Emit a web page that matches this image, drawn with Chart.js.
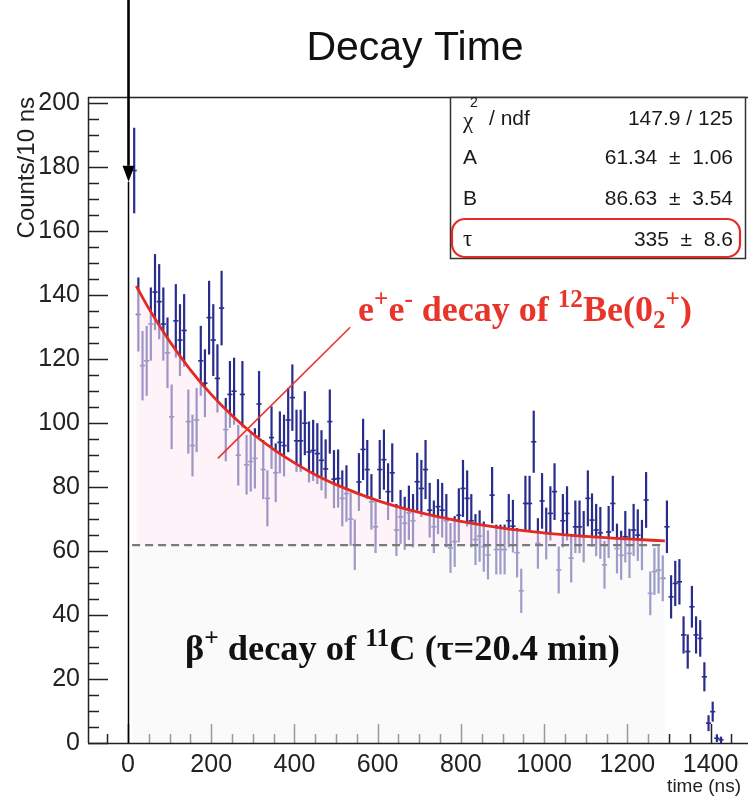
<!DOCTYPE html>
<html>
<head>
<meta charset="utf-8">
<script src="https://cdn.jsdelivr.net/npm/chart.js@4.4.1/dist/chart.umd.min.js"></script>
<style>
html,body{margin:0;padding:0;background:#ffffff;}
canvas{display:block;}
</style>
</head>
<body>
<canvas id="c" width="748" height="807"></canvas>
<script>
// ---------------- data ----------------
const binCenters = [15,25,35,45,55,65,75,85,95,105,115,125,135,145,155,165,175,185,195,205,215,225,235,245,255,265,275,285,295,305,315,325,335,345,355,365,375,385,395,405,415,425,435,445,455,465,475,485,495,505,515,525,535,545,555,565,575,585,595,605,615,625,635,645,655,665,675,685,695,705,715,725,735,745,755,765,775,785,795,805,815,825,835,845,855,865,875,885,895,905,915,925,935,945,955,965,975,985,995,1005,1015,1025,1035,1045,1055,1065,1075,1085,1095,1105,1115,1125,1135,1145,1155,1165,1175,1185,1195,1205,1215,1225,1235,1245,1255,1265,1275,1285,1295,1305,1315,1325,1335,1345,1355,1365,1375,1385,1395,1405,1415,1425];
const counts = [179,134,118,119.5,131,141,138,131,122,102,132,126,129,100.5,93,101,119.5,112.5,133,126,114,136,98,109,110,90,109,87,88,89,106,85.5,76.5,95.5,84.5,94,93,101,108,94.5,94.5,100,91,91.5,90.5,88.4,85.7,100.5,82.5,82.7,76.5,78,70,62,81.6,91.8,85.5,75.4,67.6,85.5,88.6,78.6,84.5,66.6,70.7,68.7,72,69.5,81.7,79.6,85.5,72.8,67.6,73.9,72.8,69.5,61,63,71.2,79.6,76.5,69.5,63.6,64.7,61.4,58.8,77.5,60.5,60.5,60.5,69.5,67.8,59.5,47.6,74.9,74.9,94.2,62.4,75.7,65.5,71.8,78.6,54.1,69.5,71.8,57.8,67.6,67.6,64.5,76.5,69.7,66.6,65.7,55.7,66,74.9,60.8,58.7,64.5,59.3,66.6,65,61.9,76,46.8,53.6,54.1,51.5,67.6,45.7,49.9,50.4,33.8,28.6,42.6,33.8,32.7,20.7,6.2,9.8,1.5,1.0];

// fit curve (red)
const fitTime   = [20,50,100,150,200,250,300,350,400,450,500,600,700,800,900,1000,1100,1200,1290];
const fitCounts = [142.9,135.9,125.6,116.7,109.0,102.4,96.7,91.8,87.6,83.9,80.8,75.8,72.1,69.3,67.2,65.7,64.6,63.8,63.2];

// dashed background level
const baselineTime   = [10,1290];
const baselineCounts = [61.9,61.9];

// red pointer line of the annotation
const pointerTime   = [216,534];
const pointerCounts = [89,130];

const xTickValues = [0,200,400,600,800,1000,1200,1400];
const yTickValues = [0,20,40,60,80,100,120,140,160,180,200];

const statsLabels = ['χ','A','B','τ'];
const statsValues = ['147.9 / 125','61.34  ±  1.06','86.63  ±  3.54','335  ±  8.6'];

const chartTitle = 'Decay Time';
const xTitle = 'time (ns)';
const yTitle = 'Counts/10 ns';

// ---------------- styling ----------------
const SANS = '"Liberation Sans", Arial, Helvetica, sans-serif';
const SERIF = '"Liberation Serif", "Times New Roman", serif';
const NAVY = '#282c8c';
const AXIS = '#222222';

Chart.defaults.font.family = SANS;

function toPts(xs, ys){ return xs.map((x,i)=>({x:x, y:ys[i]})); }

// vertical error bars (sqrt N) drawn through the scales
const errorBars = {
  id:'errorBars',
  afterDatasetDraw(chart, args){
    if(args.index !== 0) return;
    const {ctx, chartArea:a, scales:{x, y}} = chart;
    ctx.save();
    ctx.beginPath(); ctx.rect(a.left, a.top, a.right-a.left, a.bottom-a.top); ctx.clip();
    ctx.strokeStyle = NAVY; ctx.lineWidth = 2.2;
    binCenters.forEach((t,i)=>{
      const v = counts[i], e = Math.sqrt(v);
      const px = x.getPixelForValue(t);
      ctx.beginPath();
      ctx.moveTo(px, y.getPixelForValue(Math.max(0, v-e)));
      ctx.lineTo(px, y.getPixelForValue(v+e));
      ctx.stroke();
    });
    ctx.restore();
  }
};

// inward ROOT-style tick marks (drawn before datasets so the overlays cover them)
const innerTicks = {
  id:'innerTicks',
  beforeDatasetsDraw(chart){
    const {ctx, chartArea:a, scales:{x, y}} = chart;
    ctx.save();
    ctx.strokeStyle = AXIS; ctx.lineWidth = 1.5;
    for(let v=0; v<=200; v+=5){
      const py = Math.round(y.getPixelForValue(v))+0.5;
      const len = (v%20===0) ? 20 : 11;
      ctx.beginPath(); ctx.moveTo(a.left, py); ctx.lineTo(a.left+len, py); ctx.stroke();
    }
    for(let v=-50; v<=1450; v+=50){
      const px = Math.round(x.getPixelForValue(v))+0.5;
      const len = (v%200===0) ? 19 : 9;
      ctx.beginPath(); ctx.moveTo(px, a.bottom); ctx.lineTo(px, a.bottom-len); ctx.stroke();
    }
    ctx.restore();
  }
};

function drawRich(ctx, x, y, segs, size, family, color){
  ctx.save();
  ctx.fillStyle = color; ctx.textBaseline = 'alphabetic'; ctx.textAlign = 'left';
  let cx = x;
  segs.forEach(s=>{
    const sz = size*(s.k||1);
    ctx.font = 'bold ' + sz + 'px ' + family;
    ctx.fillText(s.t, cx, y + (s.dy||0)*size);
    cx += ctx.measureText(s.t).width;
  });
  ctx.restore();
}

const overlayText = {
  id:'overlayText',
  afterDraw(chart){
    const {ctx, chartArea:a, scales:{x, y}} = chart;
    const W = chart.width;
    ctx.save();
    // frame lines
    ctx.strokeStyle = AXIS; ctx.lineWidth = 1.5;
    ctx.beginPath(); ctx.moveTo(a.left, a.top+0.5); ctx.lineTo(W, a.top+0.5); ctx.stroke();
    ctx.beginPath(); ctx.moveTo(a.left+0.5, a.top); ctx.lineTo(a.left+0.5, a.bottom); ctx.stroke();
    ctx.beginPath(); ctx.moveTo(a.left, a.bottom+0.5); ctx.lineTo(W, a.bottom+0.5); ctx.stroke();

    // title
    ctx.fillStyle = '#111'; ctx.font = '41px ' + SANS; ctx.textAlign = 'center'; ctx.textBaseline = 'alphabetic';
    ctx.fillText(chartTitle, 415, 60);

    // arrow at t = 0
    const ax = Math.round(x.getPixelForValue(0))+0.5;
    const base = y.getPixelForValue(180.5), tip = y.getPixelForValue(175.5);
    ctx.strokeStyle = '#000'; ctx.fillStyle = '#000';
    ctx.lineWidth = 2.6;
    ctx.beginPath(); ctx.moveTo(ax, 0); ctx.lineTo(ax, base); ctx.stroke();
    ctx.beginPath(); ctx.moveTo(ax-6, base); ctx.lineTo(ax+6, base); ctx.lineTo(ax, tip); ctx.closePath(); ctx.fill();
    ctx.lineWidth = 1.5;
    ctx.beginPath(); ctx.moveTo(ax, tip); ctx.lineTo(ax, a.bottom); ctx.stroke();

    // annotations
    drawRich(ctx, x.getPixelForValue(553), y.getPixelForValue(132), [
      {t:'e'},{t:'+',k:0.7,dy:-0.38},{t:'e'},{t:'-',k:0.7,dy:-0.38},
      {t:' decay of '},{t:'12',k:0.7,dy:-0.38},{t:'Be(0'},{t:'2',k:0.7,dy:0.2},{t:'+',k:0.7,dy:-0.38},{t:')'}
    ], 36, SERIF, '#e8352b');
    drawRich(ctx, x.getPixelForValue(137), y.getPixelForValue(26), [
      {t:'β'},{t:'+',k:0.7,dy:-0.38},{t:' decay of '},{t:'11',k:0.7,dy:-0.38},{t:'C (τ=20.4 min)'}
    ], 36.4, SERIF, '#111');

    // stats box
    const bx = 450, by = a.top, bw = W-3-bx, bh = 258-a.top;
    ctx.fillStyle = '#fff'; ctx.fillRect(bx, by, bw, bh);
    ctx.strokeStyle = '#333'; ctx.lineWidth = 1.5; ctx.strokeRect(bx+0.5, by+0.5, bw, bh);
    const rows = [119, 158, 199, 240];
    ctx.fillStyle = '#1a1a1a'; ctx.textBaseline = 'middle';
    statsLabels.forEach((lab,i)=>{
      ctx.textAlign = 'left';
      if(lab==='χ' || lab==='τ'){ ctx.font = '23px ' + SERIF; } else { ctx.font = '21px ' + SANS; }
      ctx.fillText(lab, 463, rows[i]+ (lab==='χ'?3:0));
      if(i===0){
        ctx.font = '14px ' + SANS; ctx.fillText('2', 470, 103);
        ctx.font = '21px ' + SANS; ctx.fillText('/ ndf', 489, rows[i]);
      }
      ctx.font = '21px ' + SANS; ctx.textAlign = 'right';
      ctx.fillText(statsValues[i], 733, rows[i]);
    });
    // red highlight round rectangle around tau row
    ctx.strokeStyle = '#e52b25'; ctx.lineWidth = 2.2;
    ctx.beginPath();
    if(ctx.roundRect){ ctx.roundRect(452, 219, W-8-452, 38, 13); } else { ctx.rect(452,219,W-8-452,38); }
    ctx.stroke();
    ctx.restore();
  }
};

new Chart(document.getElementById('c'), {
  type:'scatter',
  data:{
    datasets:[
      { label:'data', data: toPts(binCenters, counts), order:10,
        pointStyle:'line', pointRadius:2.6, pointBorderWidth:1.6, borderColor:NAVY, backgroundColor:NAVY,
        showLine:false, fill:false },
      { label:'fit', data: toPts(fitTime, fitCounts), order:4, showLine:true,
        borderColor:'#e42a20', borderWidth:2.8, pointRadius:0, cubicInterpolationMode:'monotone',
        fill:{value:61.9}, backgroundColor:'rgba(252,234,242,0.56)' },
      { label:'baseline', data: toPts(baselineTime, baselineCounts), order:3, showLine:true,
        borderColor:'#7a7a7a', borderWidth:2.2, borderDash:[8,5], pointRadius:0,
        fill:'origin', backgroundColor:'rgba(246,246,246,0.56)' },
      { label:'pointer', data: toPts(pointerTime, pointerCounts), order:1, showLine:true,
        borderColor:'#e8352b', borderWidth:1.6, pointRadius:0, fill:false }
    ]
  },
  options:{
    responsive:false,
    animation:false,
    devicePixelRatio:1,
    layout:{ padding:{ top:97, right:7, left:0, bottom:0 } },
    plugins:{ legend:{display:false}, tooltip:{enabled:false}, title:{display:false} },
    scales:{
      x:{
        type:'linear', min:-96, max:1473,
        afterBuildTicks(s){ s.ticks = xTickValues.map(v=>({value:v})); },
        afterFit(s){ s.height = 64; },
        grid:{ display:false, drawTicks:false },
        border:{ display:false },
        ticks:{ font:{size:25, family:SANS}, color:AXIS, padding:7, maxRotation:0, autoSkip:false,
                callback:(v)=>String(v) },
        title:{ display:true, text:xTitle, align:'end', color:AXIS, font:{size:19, family:SANS}, padding:{top:0, bottom:9} }
      },
      y:{
        type:'linear', min:0, max:202,
        afterBuildTicks(s){ s.ticks = yTickValues.map(v=>({value:v})); },
        afterFit(s){ s.width = 88; },
        grid:{ display:false, drawTicks:false },
        border:{ display:false },
        ticks:{ font:{size:25, family:SANS}, color:AXIS, padding:8, autoSkip:false,
                callback:(v)=>String(v) },
        title:{ display:true, text:yTitle, align:'end', color:AXIS, font:{size:24, family:SANS}, padding:{top:13, bottom:0} }
      }
    }
  },
  plugins:[errorBars, innerTicks, overlayText]
});
</script>
</body>
</html>
